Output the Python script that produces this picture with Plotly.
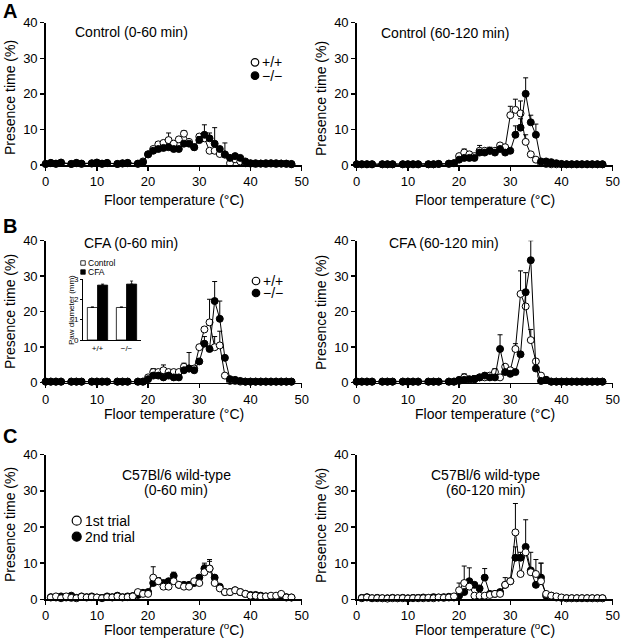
import numpy as np
import plotly.graph_objects as go

W, H = 622, 639
FONT = "Liberation Sans, Arial, Helvetica, sans-serif"
_ = None


def fx(p):
    return p / W


def fy(p):
    return 1 - p / H


# ---------------- data ----------------
X_TICKS = [0, 10, 20, 30, 40, 50]
Y_TICKS = [0, 10, 20, 30, 40]

X_AB = [0, 1, 2, 3, 5, 6, 7, 9, 10, 11, 12, 14, 15, 16, 18,
        19, 20, 21, 22, 23, 24, 25, 26, 27, 28, 29, 30, 31, 32, 33,
        34, 35, 36, 37, 38, 39, 40, 41, 42, 43, 44, 45, 46, 47, 48]

X_C = [1, 2, 3, 4, 5, 6, 7, 8, 9, 10, 11, 12, 13, 14, 15, 16, 17, 18,
       19, 20, 21, 22, 23, 24, 25, 26, 27, 28, 29, 30, 31, 32, 33,
       34, 35, 36, 37, 38, 39, 40, 41, 42, 43, 44, 45, 46, 47, 48]

# Panel A left: Control (0-60 min)
A1_WT = [0.3, 0.5, 0.3, 0.6, 0.3, 0.5, 0.3, 0.4, 0.6, 0.3, 0.5, 0.3, 0.4, 0.5, 0.3,
         1.0, 3.0, 4.5, 5.8, 6.2, 7.0, 6.0, 7.2, 8.8, 6.5, 5.0, 8.0, 7.5, 4.0, 4.0,
         3.1, 2.9, 0.5, 1.6, 1.0, 0.5, 0.4, 0.3, 0.4, 0.3, 0.4, 0.3, 0.4, 0.3, 0.2]
A1_WT_ERR = [_] * 15 + [_, _, _, 0.8, _, 2.0, _, _, 0.8, _, _, _, 1.0, _, _,
                        _, _, _, _, _, _, _, _, _, _, _, _, _, _, _]
A1_KO = [0.3, 0.6, 0.4, 0.7, 0.3, 0.6, 0.4, 0.5, 0.7, 0.4, 0.6, 0.3, 0.5, 0.6, 0.4,
         0.8, 3.0, 4.0, 4.5, 4.8, 5.0, 4.5, 4.5, 6.0, 6.0, 5.0, 7.0, 8.5, 7.5, 6.0,
         4.5, 3.0, 2.0, 2.5, 2.0, 1.0, 0.5, 0.5, 0.4, 0.5, 0.5, 0.5, 0.4, 0.4, 0.3]
A1_KO_ERR = [_] * 15 + [_, _, _, _, _, _, _, _, _, _, _, 1.0, 2.8, 1.5, 4.5,
                        _, 3.2, _, _, _, _, _, _, _, _, _, _, _, _, _]

# Panel A right: Control (60-120 min)
A2_WT = [0.2, 0.2, 0.2, 0.2, 0.2, 0.2, 0.2, 0.2, 0.2, 0.2, 0.2, 0.2, 0.2, 0.3, 0.3,
         0.5, 2.5, 3.5, 3.0, 2.5, 4.0, 4.0, 4.0, 4.0, 5.5, 5.0, 14.0, 15.5, 14.5, 6.5,
         3.0, 1.5, 0.5, 0.3, 0.2, 0.2, 0.2, 0.2, 0.2, 0.2, 0.2, 0.2, 0.2, 0.2, 0.2]
A2_WT_ERR = [_] * 15 + [_, _, 1.0, _, _, 1.5, _, 1.0, _, _, _, 2.5, 3.0, 3.5, 2.0,
                        _, _, _, _, _, _, _, _, _, _, _, _, _, _, _]
A2_KO = [0.2, 0.2, 0.2, 0.2, 0.2, 0.2, 0.2, 0.2, 0.2, 0.2, 0.2, 0.2, 0.2, 0.3, 0.4,
         0.5, 1.5, 2.0, 2.0, 2.0, 3.5, 3.5, 4.0, 3.5, 4.5, 3.5, 4.0, 8.5, 10.5, 20.0,
         12.0, 8.5, 1.0, 1.0, 0.8, 0.5, 0.3, 0.2, 0.2, 0.2, 0.2, 0.2, 0.2, 0.2, 0.2]
A2_KO_ERR = [_] * 15 + [_, _, _, _, _, _, _, _, _, _, _, _, 2.5, 2.5, 4.5,
                        2.0, 3.0, _, _, _, _, _, _, _, _, _, _, _, _, _]

# Panel B left: CFA (0-60 min)
B1_WT = [0.3, 0.3, 0.3, 0.3, 0.3, 0.3, 0.3, 0.3, 0.3, 0.3, 0.3, 0.3, 0.3, 0.3, 0.3,
         0.3, 1.5, 3.0, 3.0, 3.5, 3.0, 3.0, 3.0, 4.5, 4.0, 4.0, 10.0, 15.0, 17.0, 10.0,
         10.5, 2.0, 0.5, 0.5, 0.3, 0.3, 0.3, 0.3, 0.3, 0.3, 0.3, 0.3, 0.3, 0.3, 0.3]
B1_WT_ERR = [_] * 15 + [_, _, 1.0, _, 1.5, _, _, _, 1.0, _, _, _, _, 6.5, 3.0,
                        4.0, _, _, _, _, _, _, _, _, _, _, _, _, _, _]
B1_KO = [0.3, 0.3, 0.3, 0.3, 0.3, 0.3, 0.3, 0.3, 0.3, 0.3, 0.3, 0.3, 0.3, 0.3, 0.3,
         0.3, 1.0, 2.0, 2.0, 1.5, 2.0, 1.5, 1.5, 3.5, 4.0, 3.5, 6.0, 11.0, 9.5, 23.0,
         18.0, 7.0, 1.0, 0.8, 0.5, 0.3, 0.3, 0.3, 0.3, 0.3, 0.3, 0.3, 0.3, 0.3, 0.3]
B1_KO_ERR = [_] * 15 + [_, _, _, _, _, _, _, _, _, 4.5, _, _, 2.0, _, 5.5,
                        5.0, _, _, _, _, _, _, _, _, _, _, _, _, _, _]

# Panel B right: CFA (60-120 min)
B2_WT = [0.3, 0.3, 0.3, 0.3, 0.3, 0.3, 0.3, 0.3, 0.3, 0.3, 0.3, 0.3, 0.3, 0.3, 0.3,
         0.3, 0.5, 1.5, 0.8, 1.0, 1.5, 1.5, 2.0, 3.0, 1.5, 4.5, 3.5, 9.5, 25.0, 21.5,
         12.0, 6.0, 2.0, 0.8, 0.3, 0.3, 0.3, 0.3, 0.3, 0.3, 0.3, 0.3, 0.3, 0.3, 0.3]
B2_WT_ERR = [_] * 15 + [_, _, 1.0, _, 1.0, _, 0.8, _, 1.0, _, _, _, 1.5, 6.5, 9.5,
                        3.0, _, _, _, _, _, _, _, _, _, _, _, _, _, _]
B2_KO = [0.3, 0.3, 0.3, 0.3, 0.3, 0.3, 0.3, 0.3, 0.3, 0.3, 0.3, 0.3, 0.3, 0.3, 0.3,
         0.3, 0.8, 0.8, 1.0, 1.0, 1.5, 2.0, 1.5, 1.5, 9.5, 3.0, 2.5, 3.0, 8.0, 25.5,
         34.5, 4.0, 0.5, 0.8, 0.3, 0.3, 0.3, 0.3, 0.3, 0.3, 0.3, 0.3, 0.3, 0.3, 0.3]
B2_KO_ERR = [_] * 15 + [_, _, _, _, _, _, _, _, _, 4.0, _, _, _, _, _,
                        5.5, _, _, _, _, _, _, _, _, _, _, _, _, _, _]

# Panel C left: C57Bl/6 wild-type (0-60 min)
C1_1ST = [0.5, 0.8, 0.3, 0.8, 0.4, 0.3, 0.7, 0.5, 0.6, 0.5, 0.3, 0.6, 0.5, 0.8, 0.5, 0.6, 0.8, 2.0,
          1.5, 1.5, 6.0, 5.0, 3.5, 3.5, 5.0, 4.0, 3.5, 3.5, 5.0, 4.5, 7.5, 8.5, 4.5,
          3.0, 2.0, 2.0, 2.5, 2.0, 1.5, 1.0, 1.0, 0.8, 0.8, 1.0, 1.0, 1.5, 0.5, 0.5]
C1_1ST_ERR = [_] * 18 + [_, _, 3.0, _, _, _, _, _, _, _, _, _, 2.5, 2.5, _, _, _,
                         _, _, _, _, _, _, _, _, _, _, _, _, _, _, _]
C1_2ND = [0.6, 0.5, 0.8, 0.5, 1.0, 0.4, 0.8, 0.6, 0.8, 0.5, 0.4, 0.8, 0.6, 1.0, 0.6, 0.8, 0.9, 1.2,
          1.8, 2.0, 4.5, 5.0, 4.5, 5.0, 6.5, 4.0, 4.0, 4.0, 4.5, 6.0, 8.5, 8.5, 6.0,
          3.5, 2.0, 2.0, 2.5, 2.0, 1.5, 1.2, 1.2, 1.0, 0.8, 0.8, 0.8, 1.0, 0.6, 0.5]
C1_2ND_ERR = [_] * 18 + [_, _, _, 1.0, _, _, 1.0, _, _, _, _, _, 1.0, 2.0, _, _, _,
                         _, _, _, _, _, _, _, _, _, _, _, _, _, _, _]

# Panel C right: C57Bl/6 wild-type (60-120 min)
C2_1ST = [0.3, 0.5, 0.3, 0.3, 0.3, 0.2, 0.3, 0.3, 0.3, 0.2, 0.3, 0.3, 0.3, 0.4, 0.3, 0.5, 0.4, 0.5,
          0.8, 2.5, 4.5, 3.5, 1.0, 1.0, 1.0, 1.2, 1.5, 1.5, 4.0, 5.0, 18.5, 7.0, 13.0,
          7.5, 7.0, 5.0, 1.5, 1.0, 0.8, 0.5, 0.3, 0.3, 0.3, 0.3, 0.3, 0.3, 0.3, 0.3]
C2_1ST_ERR = [_] * 18 + [_, 2.0, 4.7, _, _, _, _, _, _, _, _, _, 8.0, _, _, 5.5, 4.0,
                         5.0, _, _, _, _, _, _, _, _, _, _, _, _, _, _]
C2_2ND = [0.4, 0.6, 0.3, 0.4, 0.3, 0.3, 0.4, 0.3, 0.4, 0.3, 0.4, 0.4, 0.5, 0.4, 0.6, 0.5, 0.6, 0.7,
          0.5, 1.0, 2.0, 5.0, 4.0, 3.0, 6.0, 1.5, 1.5, 2.0, 4.0, 5.0, 11.5, 11.5, 14.5,
          8.0, 4.0, 6.0, 1.0, 1.0, 0.5, 0.4, 0.3, 0.3, 0.3, 0.3, 0.3, 0.3, 0.3, 0.3]
C2_2ND_ERR = [_] * 18 + [_, _, _, 3.7, _, _, 2.5, _, _, _, 2.0, _, 3.0, 1.5, 7.5, _, _,
                         4.0, _, _, _, _, _, _, _, _, _, _, _, _, _, _]

# Inset: paw diameter
INSET_CATS = ["+/+", "\u2212/\u2212"]
INSET_CONTROL = [1.6, 1.6]
INSET_CONTROL_ERR = [0.03, 0.03]
INSET_CFA = [2.7, 2.75]
INSET_CFA_ERR = [0.05, 0.15]
INSET_TICKS = [0, 1, 2, 3]


def arr(v):
    return np.array([np.nan if e is None else e for e in v], dtype=float)


fig = go.Figure()

LEFT_X = (45.7, 301.7)
RIGHT_X = (356.7, 612.7)
ROW_Y = [(22.7, 165.0), (240.7, 382.7), (454.7, 599.3)]

panels = [
    dict(x=X_AB, a=A1_WT, ae=A1_WT_ERR, b=A1_KO, be=A1_KO_ERR, xd=LEFT_X, yd=ROW_Y[0], open_top=False),
    dict(x=X_AB, a=A2_WT, ae=A2_WT_ERR, b=A2_KO, be=A2_KO_ERR, xd=RIGHT_X, yd=ROW_Y[0], open_top=False),
    dict(x=X_AB, a=B1_WT, ae=B1_WT_ERR, b=B1_KO, be=B1_KO_ERR, xd=LEFT_X, yd=ROW_Y[1], open_top=False),
    dict(x=X_AB, a=B2_WT, ae=B2_WT_ERR, b=B2_KO, be=B2_KO_ERR, xd=RIGHT_X, yd=ROW_Y[1], open_top=False),
    dict(x=X_C, a=C1_1ST, ae=C1_1ST_ERR, b=C1_2ND, be=C1_2ND_ERR, xd=LEFT_X, yd=ROW_Y[2], open_top=True),
    dict(x=X_C, a=C2_1ST, ae=C2_1ST_ERR, b=C2_2ND, be=C2_2ND_ERR, xd=RIGHT_X, yd=ROW_Y[2], open_top=True),
]

axis_common = dict(
    showline=True, linecolor="black", linewidth=1.5, mirror=False,
    ticks="outside", ticklen=4, tickwidth=1.5, tickcolor="black",
    showgrid=False, zeroline=False, fixedrange=True, automargin=False,
    tickfont=dict(family=FONT, size=13, color="black"),
)

layout_axes = {}
for i, p in enumerate(panels, start=1):
    xa = "x" if i == 1 else f"x{i}"
    ya = "y" if i == 1 else f"y{i}"
    series = [
        (p["a"], p["ae"], "white"),
        (p["b"], p["be"], "black"),
    ]
    if p["open_top"]:
        series = series[::-1]
    for ys, es, fill in series:
        e = arr(es)
        fig.add_trace(go.Scatter(
            x=p["x"], y=ys, mode="lines+markers", xaxis=xa, yaxis=ya,
            showlegend=False, cliponaxis=False,
            line=dict(color="black", width=1),
            marker=dict(symbol="circle", size=7, color=fill,
                        line=dict(color="black", width=1)),
            error_y=dict(type="data", symmetric=False, array=e,
                         arrayminus=np.full(len(e), np.nan),
                         color="black", thickness=1, width=2.5),
        ))
    layout_axes["xaxis" if i == 1 else f"xaxis{i}"] = dict(
        axis_common, domain=[fx(p["xd"][0]), fx(p["xd"][1])],
        anchor=ya, range=[0, 50], tickvals=X_TICKS)
    layout_axes["yaxis" if i == 1 else f"yaxis{i}"] = dict(
        axis_common, domain=[fy(p["yd"][1]), fy(p["yd"][0])],
        anchor=xa, range=[0, 40], tickvals=Y_TICKS)

# Inset bar chart
fig.add_trace(go.Bar(
    x=INSET_CATS, y=INSET_CONTROL, xaxis="x7", yaxis="y7", showlegend=False,
    marker=dict(color="white", line=dict(color="black", width=0.8)),
    error_y=dict(type="data", symmetric=False, array=INSET_CONTROL_ERR,
                 arrayminus=[0, 0], color="black", thickness=0.8, width=1.5),
))
fig.add_trace(go.Bar(
    x=INSET_CATS, y=INSET_CFA, xaxis="x7", yaxis="y7", showlegend=False,
    marker=dict(color="black", line=dict(color="black", width=0.8)),
    error_y=dict(type="data", symmetric=False, array=INSET_CFA_ERR,
                 arrayminus=[0, 0], color="black", thickness=0.8, width=1.5),
))
layout_axes["xaxis7"] = dict(
    domain=[fx(83), fx(141)], anchor="y7", showline=True, linecolor="black",
    linewidth=1, ticks="", showgrid=False, zeroline=False, fixedrange=True,
    automargin=False, tickfont=dict(family=FONT, size=8, color="black"))
layout_axes["yaxis7"] = dict(
    domain=[fy(340), fy(279)], anchor="x7", showline=True, linecolor="black",
    linewidth=1, ticks="outside", ticklen=2, tickwidth=1, tickcolor="black",
    range=[0, 3], tickvals=INSET_TICKS, showgrid=False, zeroline=False, fixedrange=True,
    automargin=False, tickfont=dict(family=FONT, size=8, color="black"))

annotations = []
shapes = []


def text(x, y, s, size=14, xanchor="left", angle=0, bold=False):
    annotations.append(dict(
        x=fx(x), y=fy(y), xref="paper", yref="paper", text=(f"<b>{s}</b>" if bold else s),
        showarrow=False, xanchor=xanchor, yanchor="middle", textangle=angle,
        font=dict(family=FONT, size=size, color="black")))


def circle(cx, cy, d, filled):
    shapes.append(dict(
        type="circle", xref="paper", yref="paper",
        x0=fx(cx - d / 2), x1=fx(cx + d / 2), y0=fy(cy + d / 2), y1=fy(cy - d / 2),
        fillcolor="black" if filled else "white", line=dict(color="black", width=1.2)))


def square(cx, cy, d, filled):
    shapes.append(dict(
        type="rect", xref="paper", yref="paper",
        x0=fx(cx - d / 2), x1=fx(cx + d / 2), y0=fy(cy + d / 2), y1=fy(cy - d / 2),
        fillcolor="black" if filled else "white", line=dict(color="black", width=0.8)))


# panel letters
text(1, 11, "A", size=20, bold=True)
text(1, 226, "B", size=20, bold=True)
text(1, 436, "C", size=20, bold=True)

# panel titles
text(73, 32.5, "Control (0-60 min)")
text(379, 33, "Control (60-120 min)")
text(82, 243, "CFA (0-60 min)")
text(387, 243, "CFA (60-120 min)")
text(176, 475, "C57Bl/6 wild-type", xanchor="center")
text(176, 490, "(0-60 min)", xanchor="center")
text(485, 475, "C57Bl/6 wild-type", xanchor="center")
text(485, 490, "(60-120 min)", xanchor="center")

# axis titles
for cx in (173.7, 484.7):
    text(cx, 200, "Floor temperature (°C)", xanchor="center")
    text(cx, 414, "Floor temperature (°C)", xanchor="center")
    text(cx, 629, "Floor temperature (<sup>o</sup>C)", xanchor="center")
for cx in (10, 321):
    text(cx, 98, "Presence time (%)", xanchor="center", angle=-90)
    text(cx, 312, "Presence time (%)", xanchor="center", angle=-90)
    text(cx, 525, "Presence time (%)", xanchor="center", angle=-90)

# genotype legends
circle(255, 62.3, 7.5, False)
text(259.5, 62.3, "+/+", size=14)
circle(255, 75.7, 7.5, True)
text(259.5, 75.7, "\u2212/\u2212", size=14)
circle(256, 281, 7.5, False)
text(260.5, 281, "+/+", size=14)
circle(256, 293, 7.5, True)
text(260.5, 293, "\u2212/\u2212", size=14)
circle(76.7, 520.7, 9, False)
text(82.5, 520.7, "1st trial", size=14)
circle(76.7, 536.7, 9, True)
text(82.5, 536.7, "2nd trial", size=14)

# inset legend and axis title
square(83, 263, 4.5, False)
text(86, 263, "Control", size=8.5)
square(83, 272, 4.5, True)
text(86, 272, "CFA", size=8.5)
text(71, 310, "Paw diameter (mm)", size=8, xanchor="center", angle=-90)

fig.update_layout(
    template="none",
    width=W, height=H, autosize=False,
    margin=dict(l=0, r=0, t=0, b=0, pad=0),
    paper_bgcolor="white", plot_bgcolor="rgba(0,0,0,0)",
    showlegend=False, barmode="group", bargap=0.3, bargroupgap=0.0,
    annotations=annotations, shapes=shapes,
    font=dict(family=FONT, size=13, color="black"),
    **layout_axes,
)

fig.write_html(
    "out.html",
    config={"displayModeBar": False, "staticPlot": True},
    post_script="document.body.style.margin='0';document.body.style.padding='0';"
                "document.body.style.overflow='hidden';",
)
